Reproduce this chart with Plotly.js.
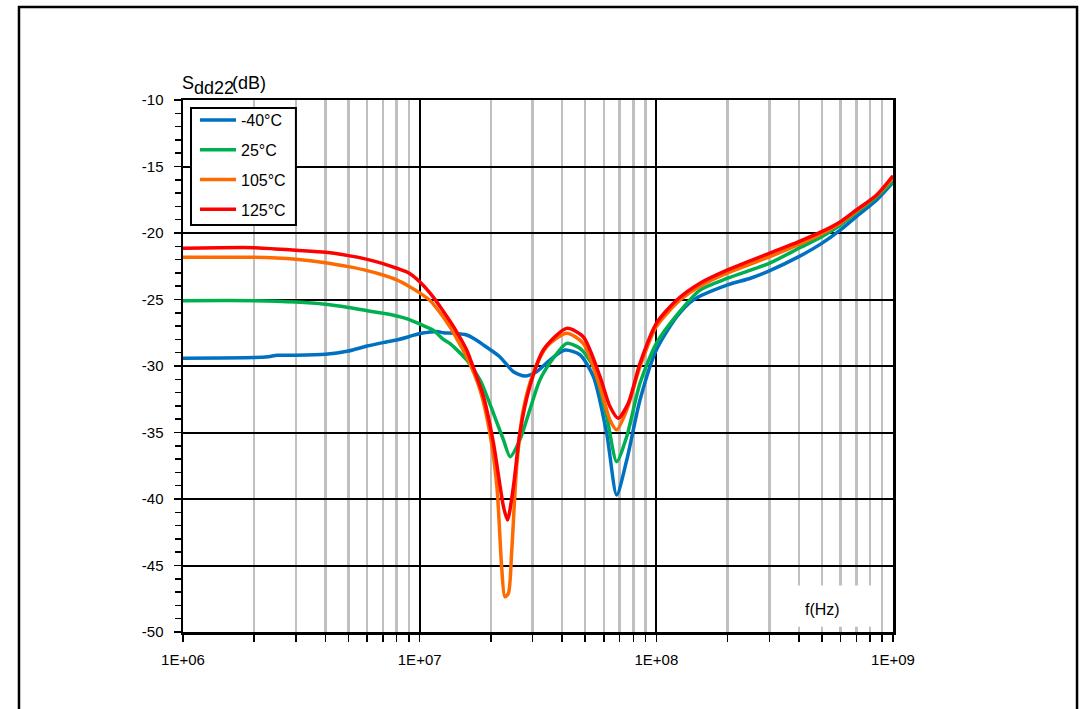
<!DOCTYPE html>
<html>
<head>
<meta charset="utf-8">
<script src="https://cdn.plot.ly/plotly-3.0.1.min.js"></script>
<style>
html,body{margin:0;padding:0;background:#fff;}
#chart{width:1080px;height:709px;}
</style>
</head>
<body>
<div id="chart"></div>
<script>
// ---- data ----
var seriesNames = ['-40°C', '25°C', '105°C', '125°C'];

var fBlue = [1e6, 2e6, 2.3e6, 2.5e6, 3e6, 4e6, 5e6, 6e6, 7e6, 8e6, 9e6, 1e7, 1.1e7, 1.18e7, 1.26e7, 1.39e7, 1.58e7, 1.7e7, 1.86e7, 2.18e7, 2.49e7, 2.79e7, 3.12e7, 3.33e7, 3.55e7, 4.11e7, 4.76e7, 5.42e7, 6.17e7, 6.8e7, 7.5e7, 8.53e7, 1e8, 1.22e8, 1.43e8, 2e8, 2.5e8, 3e8, 4e8, 5e8, 6e8, 7e8, 8.53e8, 1e9];
var dBlue = [-29.42, -29.37, -29.3, -29.2, -29.2, -29.12, -28.87, -28.5, -28.24, -28.04, -27.8, -27.55, -27.45, -27.4, -27.5, -27.54, -27.67, -27.95, -28.42, -29.3, -30.43, -30.75, -30.43, -30.0, -29.55, -28.8, -29.17, -30.8, -35.06, -39.7, -37.07, -32.56, -28.8, -26.3, -25.04, -23.9, -23.4, -22.85, -21.78, -20.78, -19.77, -18.77, -17.52, -16.2];

var fGreen = [1e6, 2e6, 3e6, 4e6, 5e6, 6e6, 7e6, 8e6, 8.8e6, 1e7, 1.14e7, 1.26e7, 1.34e7, 1.43e7, 1.58e7, 1.8e7, 2.05e7, 2.26e7, 2.41e7, 2.65e7, 2.92e7, 3.22e7, 3.67e7, 4.18e7, 4.76e7, 5.42e7, 6.17e7, 6.8e7, 7.5e7, 8.53e7, 1e8, 1.22e8, 1.53e8, 2e8, 3e8, 4e8, 5e8, 6e8, 7e8, 8.5e8, 1e9];
var dGreen = [-25.09, -25.09, -25.19, -25.36, -25.6, -25.84, -26.04, -26.24, -26.44, -26.84, -27.3, -28.0, -28.3, -28.75, -29.55, -31.05, -33.56, -35.56, -36.82, -35.56, -33.3, -31.05, -29.42, -28.3, -28.67, -30.05, -33.8, -37.19, -35.3, -31.3, -28.3, -26.17, -24.29, -23.4, -22.28, -21.15, -20.28, -19.4, -18.47, -17.3, -16.1];

var fOrange = [1e6, 2e6, 3e6, 4e6, 5e6, 6e6, 7e6, 8e6, 9e6, 1e7, 1.1e7, 1.18e7, 1.34e7, 1.43e7, 1.58e7, 1.8e7, 1.98e7, 2.12e7, 2.22e7, 2.29e7, 2.37e7, 2.45e7, 2.57e7, 2.74e7, 3.02e7, 3.44e7, 4.18e7, 4.91e7, 5.78e7, 6.37e7, 6.8e7, 7.5e7, 8.53e7, 1e8, 1.26e8, 1.53e8, 2e8, 3e8, 4e8, 5e8, 6e8, 7e8, 8.5e8, 1e9];
var dOrange = [-21.83, -21.83, -21.98, -22.23, -22.53, -22.83, -23.16, -23.53, -24.0, -24.5, -25.04, -25.66, -27.04, -27.9, -29.3, -31.8, -35.06, -39.07, -45.09, -47.35, -47.1, -43.83, -37.57, -33.3, -30.55, -28.55, -27.54, -28.3, -31.55, -34.06, -34.8, -33.3, -30.05, -27.04, -25.04, -24.0, -23.0, -21.8, -20.85, -20.05, -19.25, -18.35, -17.2, -15.85];

var fRed = [1e6, 2e6, 3e6, 4e6, 5e6, 6e6, 7e6, 8e6, 9e6, 1e7, 1.14e7, 1.26e7, 1.39e7, 1.58e7, 1.63e7, 1.86e7, 2.05e7, 2.26e7, 2.35e7, 2.49e7, 2.65e7, 2.92e7, 3.33e7, 4.18e7, 4.91e7, 5.78e7, 6.37e7, 6.9e7, 7.61e7, 8.53e7, 1e8, 1.22e8, 1.53e8, 2e8, 3e8, 4e8, 5e8, 6e8, 7e8, 8.53e8, 1e9];
var dRed = [-21.15, -21.1, -21.3, -21.45, -21.7, -21.98, -22.3, -22.65, -23.0, -23.66, -24.8, -25.9, -27.04, -28.8, -29.4, -32.3, -35.8, -40.58, -41.58, -39.07, -35.06, -31.55, -28.8, -27.17, -27.8, -30.8, -33.05, -33.93, -32.8, -29.8, -26.79, -25.04, -23.78, -22.78, -21.53, -20.65, -19.9, -19.15, -18.27, -17.14, -15.7];

var xTickVals = [1e6, 1e7, 1e8, 1e9];
var xTickText = ['1E+06', '1E+07', '1E+08', '1E+09'];
var xMinorVals = [2e6,3e6,4e6,5e6,6e6,7e6,8e6,9e6, 2e7,3e7,4e7,5e7,6e7,7e7,8e7,9e7, 2e8,3e8,4e8,5e8,6e8,7e8,8e8,9e8];
var yTickVals = [-10, -15, -20, -25, -30, -35, -40, -45, -50];
var yTickText = ['-10', '-15', '-20', '-25', '-30', '-35', '-40', '-45', '-50'];

var colors = ['#0070C0', '#00B050', '#FF6A00', '#FF0000'];
var FONT = 'Liberation Sans, Arial, Helvetica, sans-serif';

var xs = [fBlue, fGreen, fOrange, fRed];
var ys = [dBlue, dGreen, dOrange, dRed];
var traces = xs.map(function (x, i) {
  return {
    x: x, y: ys[i], type: 'scatter', mode: 'lines', name: seriesNames[i],
    legendgroup: 'g' + i,
    line: {color: colors[i], width: 3.5, shape: 'spline', smoothing: 0.7}
  };
});

var layout = {
  width: 1080, height: 709,
  margin: {l: 183, r: 187, t: 100, b: 77},
  paper_bgcolor: '#fff', plot_bgcolor: '#fff',
  font: {family: FONT, size: 14, color: '#000'},
  showlegend: true,
  legend: {
    x: 0.0169, y: 0.9944, xanchor: 'left', yanchor: 'top',
    bgcolor: 'rgba(0,0,0,0)', borderwidth: 0,
    itemwidth: 36,
    font: {family: FONT, size: 16, color: '#000'},
    traceorder: 'grouped', tracegroupgap: 6
  },
  xaxis: {
    type: 'log', range: [6, 9],
    tickmode: 'array', tickvals: xTickVals, ticktext: xTickText,
    showgrid: true, gridcolor: '#000', gridwidth: 2,
    showline: true, linecolor: '#000', linewidth: 2.5, mirror: true,
    ticks: 'outside', ticklen: 7, tickwidth: 1.5, tickcolor: '#000',
    ticklabelstandoff: 5,
    zeroline: false,
    tickfont: {family: FONT, size: 15, color: '#000'},
    minor: {tickmode: 'array', tickvals: xMinorVals, ticks: 'outside', ticklen: 7, tickwidth: 1.5, tickcolor: '#000',
            showgrid: true, gridcolor: '#c0c0c0', gridwidth: 2.5}
  },
  yaxis: {
    range: [-50, -10],
    tickmode: 'array', tickvals: yTickVals, ticktext: yTickText,
    showgrid: true, gridcolor: '#000', gridwidth: 2,
    showline: true, linecolor: '#000', linewidth: 2.5, mirror: true,
    ticks: 'outside', ticklen: 7, tickwidth: 1.5, tickcolor: '#000',
    ticklabelstandoff: 7,
    zeroline: false,
    tickfont: {family: FONT, size: 15, color: '#000'},
    minor: {dtick: 1, ticks: 'outside', ticklen: 6, tickwidth: 1.5, tickcolor: '#000', showgrid: false}
  },
  shapes: [
    {type: 'rect', xref: 'paper', yref: 'paper', x0: -0.2310, x1: 1.2592, y0: -0.3, y1: 1.1748,
     line: {color: '#000', width: 2.5}, fillcolor: 'rgba(0,0,0,0)', layer: 'above'},
    {type: 'rect', xref: 'x', yref: 'y', x0: 3.6e8, x1: 8.6e8, y0: -49.6, y1: -46.5,
     line: {width: 0}, fillcolor: '#fff', layer: 'between'},
    // legend frame
    {type: 'rect', xref: 'x', yref: 'y', x0: 1.081e6, x1: 3.0e6, y0: -19.4, y1: -10.6,
     line: {color: '#000', width: 2}, fillcolor: '#fff', layer: 'between'}
  ],
  annotations: [
    {xref: 'paper', yref: 'paper', x: -0.0042, y: 1.0320, xanchor: 'left', yanchor: 'middle',
     text: 'S', showarrow: false, font: {family: FONT, size: 18, color: '#000'}},
    {xref: 'paper', yref: 'paper', x: 0.0120, y: 1.0226, xanchor: 'left', yanchor: 'middle',
     text: 'dd22', showarrow: false, font: {family: FONT, size: 18, color: '#000'}},
    {xref: 'paper', yref: 'paper', x: 0.0662, y: 1.0320, xanchor: 'left', yanchor: 'middle',
     text: '(dB)', showarrow: false, font: {family: FONT, size: 18, color: '#000'}},
    {xref: 'paper', yref: 'paper', x: 0.9, y: 0.0414, xanchor: 'center', yanchor: 'middle',
     text: 'f(Hz)', showarrow: false, font: {family: FONT, size: 16, color: '#000'}}
  ]
};

Plotly.newPlot('chart', traces, layout, {displayModeBar: false, staticPlot: true});
</script>
</body>
</html>
